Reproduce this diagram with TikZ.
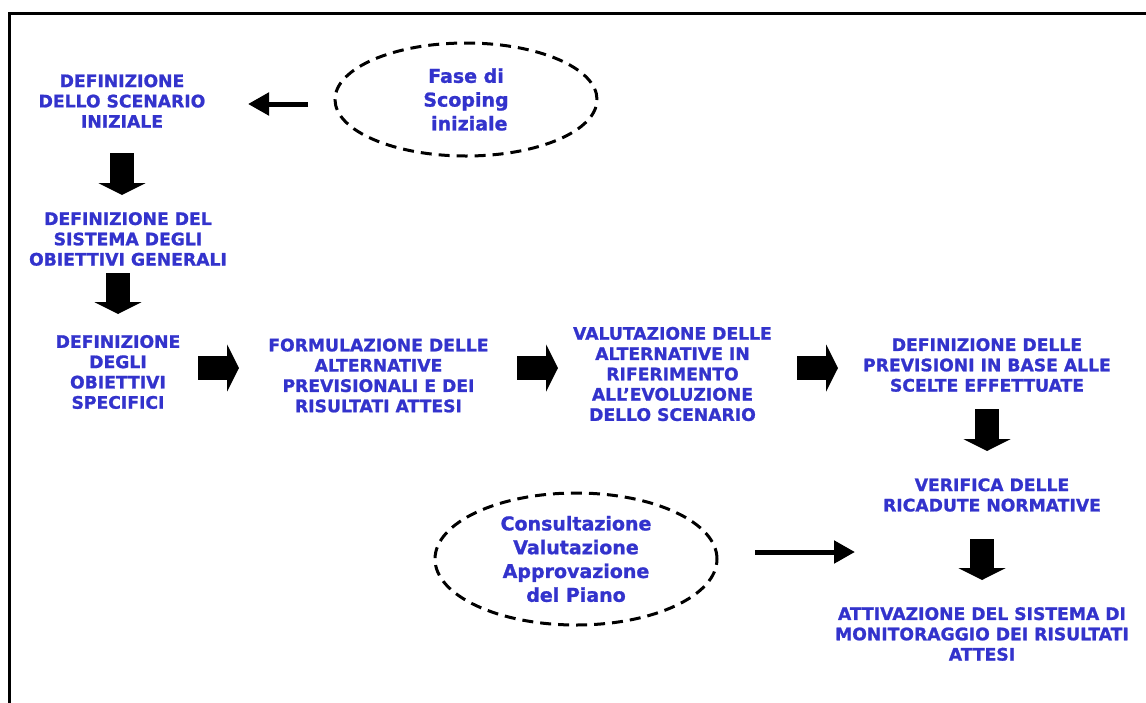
\documentclass[tikz,border=0pt]{standalone}
\usepackage{fontspec}
\setmainfont{DejaVu Sans}[BoldFeatures={FakeBold=1.2}]
\usepackage{xcolor}
\usepackage{tikz}
\usetikzlibrary{shapes.geometric, arrows.meta, positioning, calc}
\definecolor{txtblue}{RGB}{51,51,204}
\tikzset{
  procbox/.style={align=center, inner sep=0pt, text=txtblue,
    font=\bfseries\fontsize{17.2}{20.3}\selectfont},
  phase/.style={ellipse, draw=black, line width=3pt, dash pattern=on 11pt off 7pt,
    align=center, inner sep=0pt, text=txtblue,
    font=\bfseries\fontsize{19}{23.8}\selectfont},
  fatarrow/.style 2 args={line width=24pt, color=black,
    -{Triangle[width=47pt, length=12pt]}, shorten <=#1, shorten >=#2},
  arrow/.style 2 args={line width=5pt, color=black,
    -{Triangle[width=22pt, length=21pt]}, shorten <=#1, shorten >=#2}
}

\begin{document}
\begin{tikzpicture}[x=1pt, y=-1pt]
  \useasboundingbox (0,0) rectangle (1146,702);
  \draw[line width=3pt] (9.5,13) rectangle (1200,760);

  \node[procbox] (scen) at (122,101) {DEFINIZIONE\\DELLO SCENARIO\\INIZIALE};
  \node[procbox] (obgen) at (128,239) {DEFINIZIONE DEL\\SISTEMA DEGLI\\OBIETTIVI GENERALI};
  \node[procbox] (obspec) at (118,372) {DEFINIZIONE\\DEGLI\\OBIETTIVI\\SPECIFICI};
  \node[procbox] (formul) at (378.5,375.5) {FORMULAZIONE DELLE\\ALTERNATIVE\\PREVISIONALI E DEI\\RISULTATI ATTESI};
  \node[procbox] (valut) at (672.5,374) {VALUTAZIONE DELLE\\ALTERNATIVE IN\\RIFERIMENTO\\ALL’EVOLUZIONE\\DELLO SCENARIO};
  \node[procbox] (previs) at (987,365) {DEFINIZIONE DELLE\\PREVISIONI IN BASE ALLE\\SCELTE EFFETTUATE};
  \node[procbox] (verif) at (992,495) {VERIFICA DELLE\\RICADUTE NORMATIVE};
  \node[procbox] (monit) at (982,634) {ATTIVAZIONE DEL SISTEMA DI\\MONITORAGGIO DEI RISULTATI\\ATTESI};

  \node[phase, minimum width=262pt, minimum height=113pt] (scoping) at (466,99.5) {Fase di\\Scoping\\\ iniziale};
  \node[phase, minimum width=282pt, minimum height=132pt] (consult) at (576,559) {Consultazione\\Valutazione\\Approvazione\\del Piano};

  \draw[arrow={158pt}{126pt}] ([yshift=-4.5pt]scoping.center) -- ([yshift=-4.5pt]scoping.center -| scen.center);
  \draw[fatarrow={52pt}{44pt}] (scen.center) -- (scen.center |- obgen.center);
  \draw[fatarrow={34pt}{58pt}] (obspec.center |- obgen.center) -- (obspec.center);
  \draw[fatarrow={80pt}{139.5pt}] ([yshift=4pt]obspec.center) -- ([yshift=4pt]obspec.center -| formul.center);
  \draw[fatarrow={138.5pt}{114.5pt}] ([yshift=7.5pt]formul.center) -- ([yshift=7.5pt]formul.center -| valut.center);
  \draw[fatarrow={124.5pt}{149pt}] ([yshift=6pt]valut.center) -- ([yshift=6pt]valut.center -| previs.center);
  \draw[fatarrow={44pt}{44pt}] (previs.center) -- (previs.center |- verif.center);
  \draw[fatarrow={44pt}{54pt}] (monit.center |- verif.center) -- (monit.center);
  \draw[arrow={179pt}{127pt}] ([yshift=7pt]consult.center) -- ([yshift=7pt]consult.center -| monit.center);
\end{tikzpicture}
\end{document}
